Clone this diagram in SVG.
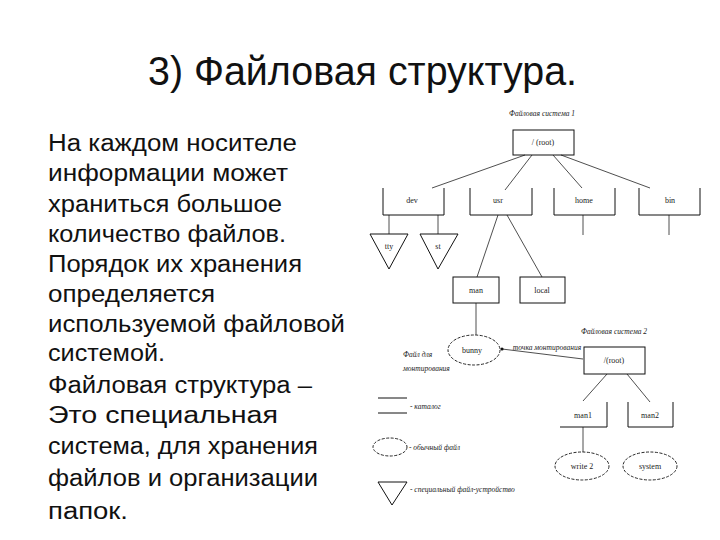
<svg xmlns="http://www.w3.org/2000/svg" width="720" height="540" viewBox="0 0 720 540">
<style>
.big{font-family:"Liberation Sans",Arial,sans-serif;font-size:23px;fill:#111}
.title{font-family:"Liberation Sans",Arial,sans-serif;font-size:40px;fill:#111}
.lbl{font-family:"Liberation Serif","Times New Roman",serif;font-size:8px;fill:#222;text-anchor:middle}
.ann{font-family:"Liberation Serif","Times New Roman",serif;font-size:7.5px;font-style:italic;fill:#222}
.box{fill:none;stroke:#111;stroke-width:1}
.dash{fill:none;stroke:#111;stroke-width:0.9;stroke-dasharray:3 1.5}
.con{fill:none;stroke:#222;stroke-width:0.8}
</style>
<defs>
<marker id="dot" markerWidth="4" markerHeight="4" refX="2" refY="2" markerUnits="userSpaceOnUse"><circle cx="2" cy="2" r="1.6" fill="#111"/></marker>
</defs>
<rect width="720" height="540" fill="#fff"/>
<text class="title" x="148" y="85" textLength="429" lengthAdjust="spacingAndGlyphs">3) Файловая структура.</text>
<g id="body-text">
<text class="big" x="48" y="151" textLength="249" lengthAdjust="spacingAndGlyphs">На каждом носителе</text>
<text class="big" x="48" y="181" textLength="240" lengthAdjust="spacingAndGlyphs">информации может</text>
<text class="big" x="48" y="212" textLength="234" lengthAdjust="spacingAndGlyphs">храниться большое</text>
<text class="big" x="48" y="242" textLength="238" lengthAdjust="spacingAndGlyphs">количество файлов.</text>
<text class="big" x="48" y="272" textLength="254" lengthAdjust="spacingAndGlyphs">Порядок их хранения</text>
<text class="big" x="48" y="302" textLength="167" lengthAdjust="spacingAndGlyphs">определяется</text>
<text class="big" x="48" y="332" textLength="297" lengthAdjust="spacingAndGlyphs">используемой файловой</text>
<text class="big" x="48" y="361" textLength="117" lengthAdjust="spacingAndGlyphs">системой.</text>
<text class="big" x="48" y="393" textLength="264" lengthAdjust="spacingAndGlyphs">Файловая структура –</text>
<text class="big" x="48" y="423" textLength="230" lengthAdjust="spacingAndGlyphs">Это специальная</text>
<text class="big" x="48" y="454" textLength="270" lengthAdjust="spacingAndGlyphs">система, для хранения</text>
<text class="big" x="48" y="486" textLength="270" lengthAdjust="spacingAndGlyphs">файлов и организации</text>
<text class="big" x="48" y="519" textLength="80" lengthAdjust="spacingAndGlyphs">папок.</text>
</g>
<g id="connectors">
<line class="con" x1="525" y1="155" x2="432" y2="188"/>
<line class="con" x1="532" y1="155" x2="505" y2="190"/>
<line class="con" x1="553" y1="155" x2="582" y2="188"/>
<line class="con" x1="561" y1="155" x2="650" y2="188"/>
<line class="con" x1="389" y1="215" x2="389" y2="234"/>
<line class="con" x1="438" y1="215" x2="438" y2="234"/>
<line class="con" x1="498" y1="215" x2="477" y2="277"/>
<line class="con" x1="507" y1="215" x2="542" y2="277"/>
<line class="con" x1="583" y1="215" x2="583" y2="235"/>
<line class="con" x1="669" y1="215" x2="669" y2="235"/>
<line class="con" x1="476" y1="303" x2="476" y2="335"/>
<line class="con" x1="583" y1="359" x2="502" y2="349" marker-end="url(#dot)"/>
<line class="con" x1="607" y1="374" x2="583" y2="401"/>
<line class="con" x1="627" y1="374" x2="650" y2="402"/>
<line class="con" x1="583" y1="427" x2="583" y2="452"/>
</g>
<g id="fs1-title"><text class="ann" x="542" y="116" text-anchor="middle">Файловая система 1</text></g>
<g id="root1"><rect class="box" x="513" y="130" width="61" height="25"/><text class="lbl" x="543" y="145">/ (root)</text></g>
<g id="dev"><path class="box" d="M383 188V215H444V188"/><text class="lbl" x="412" y="203">dev</text></g>
<g id="usr"><path class="box" d="M470 188V215H532V188"/><text class="lbl" x="498" y="203">usr</text></g>
<g id="home"><path class="box" d="M554 188V215H615V188"/><text class="lbl" x="584" y="203">home</text></g>
<g id="bin"><path class="box" d="M639 188V215H700V188"/><text class="lbl" x="670" y="203">bin</text></g>
<g id="tty"><path class="box" d="M370 234H408L389 269Z"/><text class="lbl" x="389" y="249">tty</text></g>
<g id="st"><path class="box" d="M420 234H458L438 269Z"/><text class="lbl" x="438" y="249">st</text></g>
<g id="man"><rect class="box" x="453" y="277" width="46" height="26"/><text class="lbl" x="476" y="293">man</text></g>
<g id="local"><rect class="box" x="520" y="277" width="45" height="26"/><text class="lbl" x="542" y="293">local</text></g>
<g id="bunny"><ellipse class="dash" cx="474" cy="350" rx="26" ry="15"/><text class="lbl" x="472" y="353">bunny</text></g>
<g id="mount-label"><text class="ann" x="547" y="350" text-anchor="middle">точка монтирования</text></g>
<g id="fs2-title"><text class="ann" x="614" y="334" text-anchor="middle">Файловая система 2</text></g>
<g id="root2"><rect class="box" x="584" y="347" width="61" height="27"/><text class="lbl" x="614" y="363">/(root)</text></g>
<g id="man1"><path class="box" d="M560 427H607V402"/><text class="lbl" x="583" y="418">man1</text></g>
<g id="man2"><path class="box" d="M628 402V427H673V402"/><text class="lbl" x="650" y="418">man2</text></g>
<g id="write2"><ellipse class="dash" cx="582" cy="466" rx="27" ry="14"/><text class="lbl" x="582" y="469">write 2</text></g>
<g id="system"><ellipse class="dash" cx="650" cy="466" rx="27" ry="14"/><text class="lbl" x="650" y="469">system</text></g>
<g id="legend">
<text class="ann" x="403" y="357">Файл для</text>
<text class="ann" x="403" y="371">монтирования</text>
<line class="box" x1="378" y1="398" x2="407" y2="398"/>
<line class="box" x1="378" y1="413" x2="407" y2="413"/>
<text class="ann" x="410" y="409">- каталог</text>
<ellipse class="dash" cx="390" cy="447" rx="17" ry="9"/>
<text class="ann" x="409" y="450">- обычный файл</text>
<path class="box" d="M378 482H407L392 505Z"/>
<text class="ann" x="410" y="492">- специальный файл-устройство</text>
</g>
</svg>
